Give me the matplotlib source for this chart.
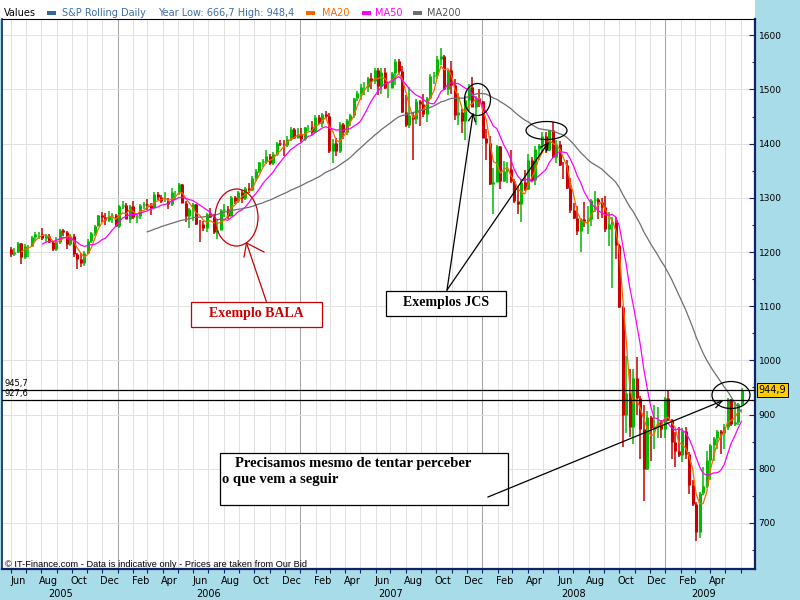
"""
S&P rolling chart (Jun 2005 - Jun 2009) with MA20 / MA50 / MA200
and the hand-drawn notes on top, IT-Finance screenshot style.
"""

import matplotlib
matplotlib.use('Agg')
import matplotlib.pyplot as plt
import matplotlib.dates as mdates
from matplotlib.patches import Ellipse, Rectangle
from matplotlib.lines import Line2D
import numpy as np
import pandas as pd

# weekly bars, one per week (plotted on the Wednesday)
first_week = '2005-06-01'
first_open = 1205

close = [
    # 2005
    1196, 1200, 1216, 1191, 1211, 1212, 1228, 1234, 1234, 1226, 1230, 1219, 1205,
    1218, 1241, 1237, 1215, 1229, 1196, 1187, 1179, 1198, 1220, 1235, 1248, 1268,
    1265, 1259, 1267, 1269, 1248,
    # 2006
    1285, 1287, 1261, 1284, 1264, 1267, 1287, 1289, 1287, 1282, 1307, 1302, 1295,
    1295, 1289, 1311, 1311, 1325, 1291, 1267, 1280, 1288, 1252, 1251, 1245, 1270,
    1265, 1236, 1240, 1278, 1280, 1267, 1302, 1295, 1311, 1299, 1319, 1314, 1336,
    1350, 1366, 1368, 1377, 1364, 1380, 1401, 1400, 1397, 1409, 1427, 1410, 1418,
    # 2007
    1409, 1430, 1430, 1422, 1449, 1438, 1455, 1451, 1387, 1402, 1386, 1437, 1421,
    1444, 1452, 1484, 1494, 1505, 1505, 1522, 1515, 1536, 1507, 1533, 1503, 1503,
    1530, 1552, 1534, 1459, 1434, 1453, 1445, 1479, 1474, 1454, 1484, 1525, 1527,
    1557, 1561, 1500, 1535, 1509, 1453, 1458, 1441, 1481, 1504, 1468, 1484, 1478,
    # 2008
    1411, 1401, 1325, 1330, 1396, 1331, 1349, 1353, 1331, 1294, 1288, 1330, 1316,
    1370, 1332, 1390, 1398, 1414, 1388, 1425, 1375, 1400, 1361, 1360, 1318, 1278,
    1262, 1239, 1260, 1257, 1260, 1296, 1298, 1292, 1283, 1242, 1252, 1255, 1213,
    1099, 899, 940, 877, 968, 930, 873, 800, 896, 876, 879, 887, 873,
    # 2009
    931, 890, 850, 832, 826, 869, 827, 770, 735, 683, 756, 768, 816,
    843, 857, 870, 866, 877, 929, 883, 887, 919, 944.9,
]

high = [
    # 2005
    1210, 1208, 1219, 1217, 1214, 1213, 1229, 1237, 1237, 1245, 1233, 1234, 1220,
    1227, 1243, 1243, 1238, 1234, 1233, 1199, 1198, 1201, 1224, 1236, 1249, 1269,
    1273, 1272, 1276, 1272, 1271,
    # 2006
    1287, 1294, 1290, 1286, 1295, 1272, 1289, 1293, 1297, 1290, 1310, 1311, 1306,
    1310, 1300, 1318, 1313, 1327, 1326, 1295, 1282, 1290, 1289, 1259, 1258, 1272,
    1281, 1271, 1260, 1280, 1288, 1284, 1304, 1303, 1312, 1315, 1320, 1328, 1340,
    1353, 1367, 1372, 1389, 1381, 1384, 1403, 1407, 1406, 1415, 1431, 1429, 1428,
    # 2007
    1429, 1431, 1435, 1441, 1452, 1453, 1457, 1461, 1456, 1408, 1410, 1440, 1438,
    1446, 1454, 1485, 1498, 1510, 1513, 1523, 1530, 1540, 1540, 1539, 1540, 1514,
    1533, 1556, 1556, 1544, 1490, 1504, 1456, 1482, 1481, 1491, 1486, 1529, 1532,
    1561, 1576, 1563, 1536, 1553, 1520, 1493, 1463, 1488, 1510, 1523, 1488, 1500,
    # 2008
    1478, 1427, 1415, 1355, 1397, 1396, 1368, 1367, 1389, 1335, 1322, 1335, 1352,
    1380, 1376, 1395, 1400, 1422, 1421, 1426, 1440, 1406, 1404, 1366, 1370, 1337,
    1290, 1285, 1263, 1292, 1284, 1297, 1313, 1300, 1300, 1303, 1274, 1265, 1265,
    1215, 1100, 1008, 985, 984, 1007, 934, 917, 906, 898, 918, 914, 890,
    # 2009
    932, 943, 891, 868, 877, 875, 877, 830, 780, 739, 758, 804, 832,
    845, 858, 871, 871, 883, 930, 915, 924, 921, 948.4,
]

low = [
    # 2005
    1191, 1193, 1198, 1178, 1188, 1190, 1210, 1220, 1224, 1222, 1218, 1216, 1201,
    1201, 1215, 1229, 1205, 1211, 1191, 1168, 1173, 1175, 1197, 1217, 1230, 1248,
    1255, 1250, 1256, 1254, 1247,
    # 2006
    1245, 1280, 1260, 1254, 1261, 1253, 1260, 1280, 1277, 1268, 1281, 1296, 1291,
    1292, 1280, 1285, 1296, 1306, 1290, 1256, 1245, 1258, 1250, 1219, 1238, 1237,
    1262, 1233, 1224, 1240, 1265, 1261, 1266, 1289, 1291, 1291, 1296, 1309, 1312,
    1331, 1346, 1357, 1363, 1360, 1360, 1377, 1395, 1377, 1394, 1405, 1408, 1410,
    # 2007
    1403, 1404, 1424, 1416, 1420, 1436, 1431, 1448, 1382, 1364, 1377, 1383, 1409,
    1416, 1433, 1447, 1478, 1481, 1490, 1496, 1500, 1510, 1490, 1492, 1500, 1484,
    1503, 1508, 1528, 1457, 1430, 1428, 1370, 1436, 1432, 1450, 1439, 1482, 1510,
    1520, 1546, 1499, 1490, 1492, 1444, 1435, 1420, 1406, 1460, 1467, 1435, 1468,
    # 2008
    1411, 1370, 1323, 1270, 1330, 1317, 1330, 1327, 1328, 1290, 1270, 1256, 1312,
    1315, 1331, 1324, 1370, 1384, 1383, 1386, 1373, 1364, 1359, 1335, 1317, 1272,
    1260, 1232, 1200, 1247, 1234, 1248, 1274, 1261, 1263, 1236, 1212, 1133, 1187,
    1097, 840, 866, 859, 845, 899, 818, 741, 798, 815, 837, 857, 856,
    # 2009
    857, 888, 818, 804, 821, 812, 818, 754, 731, 667, 672, 752, 764,
    780, 814, 836, 827, 836, 871, 879, 879, 881, 915,
]

ma_periods = [('MA20', 4), ('MA50', 10), ('MA200', 40)]   # daily MAs as weeks
levels = [945.7, 927.6]
level_labels = ['945,7', '927,6']
last_price = 944.9
last_label = '944,9'
legend_name = 'S&P Rolling Daily'
legend_range = 'Year Low: 666,7 High: 948,4'
year_labels = [2005, 2006, 2007, 2008, 2009]
year_label_dates = ['2005-09-08', '2006-07-02', '2007-07-02', '2008-07-02', '2009-03-18']
credit = '\u00a9 IT-Finance.com - Data is indicative only - Prices are taken from Our Bid'

GREEN = '#00BB00'
RED = '#C80000'
ORANGE = '#FF6600'
MAGENTA = '#FF00FF'
GREY = '#6E6E6E'
NAVY = '#0F2366'
BG = '#A9DCE9'
GRID = '#E1E1E1'
YEAR_GRID = '#A5A5A5'
NOTE_RED = '#CC0000'

W, H = 800, 600
fig = plt.figure(figsize=(W / 100, H / 100), dpi=100, facecolor=BG)
ax = fig.add_axes([2 / W, 31 / H, 753 / W, 550 / H])
ax.set_facecolor('white')

# white legend strip above the plot
fig.add_artist(Rectangle((0, 1 - 19 / H), 755 / W, 19 / H, transform=fig.transFigure,
                         fc='white', ec='none', zorder=-1))

df = pd.DataFrame({'close': close, 'high': high, 'low': low},
                  index=pd.date_range(first_week, periods=len(close), freq='W-WED'))
df['open'] = df['close'].shift(1).fillna(first_open)
df['high'] = df[['high', 'open', 'close']].max(axis=1)
df['low'] = df[['low', 'open', 'close']].min(axis=1)

x = mdates.date2num(df.index.to_pydatetime())
up = (df['close'] >= df['open']).values
body_lo = np.minimum(df['open'], df['close']).values
body_hi = np.maximum(df['open'], df['close']).values

# grid: month lines, darker at new year, price lines every 100
months = pd.date_range('2005-06-01', '2009-06-01', freq='MS')
for m in months:
    ax.axvline(m, color=YEAR_GRID if m.month == 1 else GRID, lw=0.75, zorder=0)
for v in range(700, 1601, 100):
    ax.axhline(v, color=GRID, lw=0.75, zorder=0)

for mask, col in ((up, GREEN), (~up, RED)):
    ax.vlines(x[mask], df['low'].values[mask], df['high'].values[mask],
              color=col, lw=1.1, zorder=2)
    ax.vlines(x[mask], body_lo[mask], body_hi[mask], color=col, lw=2.2, zorder=2)

for (name, n), col in zip(ma_periods, [ORANGE, MAGENTA, GREY]):
    ax.plot(x, df['close'].rolling(n).mean(), color=col, lw=0.9, zorder=3)

for lvl, lbl in zip(levels, level_labels):
    ax.axhline(lvl, color='black', lw=0.9, zorder=4)
    ax.annotate(lbl, xy=(0.003, lvl), xycoords=('axes fraction', 'data'),
                xytext=(0, 1.2), textcoords='offset points', fontsize=6,
                va='bottom', ha='left', zorder=4)

ax.set_xlim(pd.Timestamp('2005-05-14'), pd.Timestamp('2009-06-30'))
ax.set_ylim(615, 1630)

# price axis on the right, ticks pointing inwards
ax.yaxis.tick_right()
ax.set_yticks(np.arange(700, 1601, 100))
ax.set_yticks(np.arange(650, 1630, 50), minor=True)
ax.tick_params(axis='y', which='major', direction='in', length=4, width=0.8,
               color=NAVY, labelsize=6.5, pad=2.5)
ax.tick_params(axis='y', which='minor', direction='in', length=2.5, width=0.8, color=NAVY)

# time axis: month ticks, labels on every second month, years below
ax.set_xticks([])
ax.set_xticks(mdates.date2num(months.to_pydatetime()), minor=True)
ax.tick_params(axis='x', which='minor', direction='out', length=3, width=0.8, color=NAVY)
xt = ax.get_xaxis_transform()
for m in months:
    if m.month % 2 == 0 and m < pd.Timestamp('2009-05-01'):
        ax.text(m + pd.Timedelta(days=14), -0.021, m.strftime('%b'), transform=xt,
                ha='center', va='center', fontsize=7)
for yr, d in zip(year_labels, year_label_dates):
    ax.text(pd.Timestamp(d), -0.046, str(yr), transform=xt,
            ha='center', va='center', fontsize=7)

for side in ('left', 'right', 'bottom'):
    ax.spines[side].set_color(NAVY)
ax.spines['left'].set_linewidth(1.2)
ax.spines['right'].set_linewidth(1.6)
ax.spines['bottom'].set_linewidth(1.6)
ax.spines['top'].set_color('black')
ax.spines['top'].set_linewidth(0.8)

ax.text(0.004, 0.009, credit, transform=ax.transAxes, fontsize=6.7,
        family='Liberation Sans', ha='left', va='center', zorder=6)

ax.annotate(last_label, xy=(1, last_price), xycoords=('axes fraction', 'data'),
            xytext=(2.5, 0), textcoords='offset points', fontsize=7,
            ha='left', va='center', annotation_clip=False,
            bbox=dict(boxstyle='square,pad=0.2', fc='#FFCC00', ec='black', lw=0.7))

# legend row
ty = 1 - 12.5 / H
fig.text(4 / W, ty, 'Values', fontsize=7, va='center')
legend_items = [
    (47, 62, legend_name, '#3366A0', '#3A6EA5'),
    (306, 322, 'MA20', ORANGE, ORANGE),
    (362, 375, 'MA50', MAGENTA, MAGENTA),
    (413, 427, 'MA200', GREY, '#555555'),
]
for bx, tx, label, bar_col, txt_col in legend_items:
    fig.add_artist(Rectangle((bx / W, 1 - 15 / H), 8.5 / W, 3.5 / H,
                             transform=fig.transFigure, fc=bar_col, ec='none'))
    fig.text(tx / W, ty, label, fontsize=7, va='center', color=txt_col)
fig.text(158 / W, ty, legend_range, fontsize=7, va='center', color='#3A6EA5')


# hand-drawn notes (pixel positions, y from the top)
def line(pts, color, lw=0.9):
    xs = [p[0] / W for p in pts]
    ys = [1 - p[1] / H for p in pts]
    fig.add_artist(Line2D(xs, ys, color=color, lw=lw, transform=fig.transFigure, zorder=6))


def arrow(start, tip, color, head=9, spread=25):
    line([start, tip], color)
    ang = np.arctan2(start[1] - tip[1], start[0] - tip[0])
    pts = [(tip[0] + head * np.cos(ang + s * np.radians(spread)),
            tip[1] + head * np.sin(ang + s * np.radians(spread))) for s in (-1, 1)]
    line([pts[0], tip, pts[1]], color)


def box(x0, y0, x1, y1, color):
    fig.add_artist(Rectangle((x0 / W, 1 - y1 / H), (x1 - x0) / W, (y1 - y0) / H,
                             transform=fig.transFigure, fc='white', ec=color,
                             lw=0.9, zorder=5))


def ellipse(cx, cy, w, h, color):
    fig.add_artist(Ellipse((cx / W, 1 - cy / H), w / W, h / H, transform=fig.transFigure,
                           fill=False, ec=color, lw=0.9, zorder=6))


note_font = dict(family='Liberation Serif', weight='bold', va='center')

ellipse(236.5, 217.5, 43, 57, NOTE_RED)
line([(266.5, 302), (246.5, 243)], NOTE_RED)
line([(244, 257), (246.5, 243), (264, 252)], NOTE_RED)
box(191, 302, 322, 327, NOTE_RED)
fig.text(256 / W, 1 - 314 / H, 'Exemplo BALA', ha='center', fontsize=10,
         color=NOTE_RED, zorder=7, **note_font)

ellipse(477.5, 99.5, 26, 32, 'black')
ellipse(546.5, 130.5, 41, 18, 'black')
arrow((447, 290), (473, 114), 'black', head=8)
arrow((447, 290), (548, 143), 'black', head=8)
box(386, 290.5, 505.5, 315.5, 'black')
fig.text(446 / W, 1 - 302.5 / H, 'Exemplos JCS', ha='center', fontsize=10,
         color='black', zorder=7, **note_font)

ellipse(731, 395, 38, 27, 'black')
arrow((488, 497), (722, 401), 'black', head=9)
box(220, 452.5, 507.5, 505, 'black')
fig.text(235 / W, 1 - 464 / H, 'Precisamos mesmo de tentar perceber', ha='left',
         fontsize=10.5, color='black', zorder=7, **note_font)
fig.text(222 / W, 1 - 480 / H, 'o que vem a seguir', ha='left',
         fontsize=10.5, color='black', zorder=7, **note_font)

fig.savefig('out.png', dpi=100, facecolor=BG)
plt.close(fig)
print('saved out.png')
